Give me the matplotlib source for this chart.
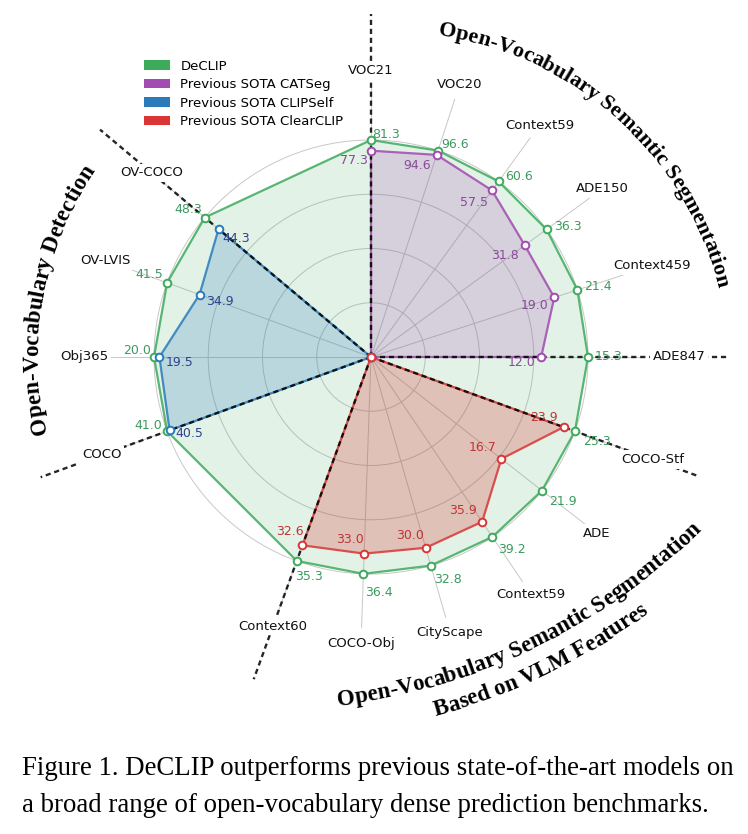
import numpy as np
import matplotlib
matplotlib.use("Agg")
import matplotlib.pyplot as plt
from matplotlib.patches import Patch
from matplotlib.font_manager import FontProperties

# benchmarks, in drawing order (counter-clockwise angle in degrees)
categories = ["VOC21", "VOC20", "Context59", "ADE150", "Context459", "ADE847",
              "COCO-Stf", "ADE", "Context59", "CityScape", "COCO-Obj", "Context60",
              "COCO", "Obj365", "OV-LVIS", "OV-COCO"]
angles_deg = [90, 72, 54, 36, 18, 0,
              -20, -38, -56, -74, -92, -110,
              200, 180, 160, 140]

declip = [81.3, 96.6, 60.6, 36.3, 21.4, 15.3,
          25.3, 21.9, 39.2, 32.8, 36.4, 35.3,
          41.0, 20.0, 41.5, 48.3]
catseg = [77.3, 94.6, 57.5, 31.8, 19.0, 12.0]        # VOC21 .. ADE847
clearclip = [23.9, 16.7, 35.9, 30.0, 33.0, 32.6]     # COCO-Stf .. Context60
clipself = [40.5, 19.5, 34.9, 44.3]                  # COCO .. OV-COCO

catseg_idx = list(range(0, 6))
clearclip_idx = list(range(6, 12))
clipself_idx = list(range(12, 16))

names = ["DeCLIP", "Previous SOTA CATSeg", "Previous SOTA CLIPSelf", "Previous SOTA ClearCLIP"]
colors = ["#3daa5c", "#a24bb0", "#2b7bba", "#d93535"]
text_colors = ["#3c9a5f", "#8a4a9a", "#2d4190", "#c03434"]

W, H = 748, 834
CX, CY, R1 = 371, 357, 217.0   # chart centre and radius of r=1 in pixels
RMAX = 1.25

fig = plt.figure(figsize=(W / 100, H / 100), dpi=100)
fig.patch.set_facecolor("white")
half = RMAX * R1
ax = fig.add_axes([(CX - half) / W, (H - CY - half) / H, 2 * half / W, 2 * half / H],
                  projection="polar")
th = np.deg2rad(angles_deg)
norm = np.array(declip)


def draw_series(idx, vals, col, fill_alpha, closed):
    t = th[idx]
    r = np.array(vals) / norm[idx]
    if closed:
        tt = np.append(t, t[0])
        rr = np.append(r, r[0])
    else:
        tt = np.concatenate([[t[0]], t, [t[-1]]])
        rr = np.concatenate([[0], r, [0]])
    ax.fill(tt, rr, color=col, alpha=fill_alpha, lw=0, zorder=2)
    ax.plot(tt, rr, color=col, lw=1.6, alpha=0.85, zorder=3)
    ax.plot(t, r, "o", ms=5.5, mfc="white", mec=col, mew=1.4, zorder=6)
    if not closed:
        ax.plot([0], [0], "o", ms=5.5, mfc="white", mec=col, mew=1.4, zorder=6)
    return t, r


all_idx = list(range(len(categories)))
series = [
    (all_idx, declip, 0.15, True),
    (catseg_idx, catseg, 0.2, False),
    (clipself_idx, clipself, 0.22, False),
    (clearclip_idx, clearclip, 0.26, False),
]

# label offsets in pixels (dx right, dy down)
offsets = [
    [(15, -6), (17, -6), (20, -5), (21, -3), (21, -3), (21, 0), (22, 10), (21, 11),
     (20, 13), (17, 14), (15, 19), (12, 16), (-19, -6), (-17, -7), (-18, -8), (-17, -8)],
    [(-17, 10), (-20, 11), (-18, 12), (-20, 10), (-20, 8), (-20, 6)],
    [(20, 3), (20, 6), (20, 7), (18, 9)],
    [(-20, -10), (-19, -11), (-19, -11), (-16, -12), (-14, -14), (-13, -14)],
]

for k, (idx, vals, fa, closed) in enumerate(series):
    t, r = draw_series(idx, vals, colors[k], fa, closed)
    for j, v in enumerate(vals):
        dx, dy = offsets[k][j]
        ax.annotate(f"{v:.1f}", xy=(t[j], r[j]), xytext=(dx, -dy), textcoords="offset pixels",
                    ha="center", va="center", fontsize=9, color=text_colors[k], zorder=7,
                    annotation_clip=False)

# group separators
for name_i, r_end in [(0, 1.58), (5, 1.65), (6, 1.61), (11, 1.58), (12, 1.62), (15, 1.63)]:
    ax.plot([th[name_i], th[name_i]], [0, r_end], color="black", lw=1.7,
            ls=(0, (2.2, 1.6)), alpha=0.85, zorder=4, clip_on=False)

# benchmark names
label_r = {4: 1.36, 5: 1.42, 6: 1.38, 14: 1.30}
for i, name in enumerate(categories):
    ax.text(th[i], label_r.get(i, 1.32), name, ha="center", va="center", fontsize=9.5,
            color="#111111", zorder=8, clip_on=False,
            bbox=dict(boxstyle="square,pad=0.2", fc="white", ec="none"))

# fix the polar frame after plotting (negative angles would shrink it to a wedge)
ax.set_thetalim(0, 2 * np.pi)
ax.set_ylim(0, RMAX)
ax.set_xticks(np.deg2rad(np.mod(angles_deg, 360)))
ax.set_xticklabels([])
ax.set_yticks([0.25, 0.5, 0.75, 1.0])
ax.set_yticklabels([])
ax.grid(color="#c8c8c8", lw=0.7)
ax.spines["polar"].set_visible(False)
ax.patch.set_alpha(0)

# legend
handles = [Patch(facecolor=c, edgecolor="none") for c in colors]
fig.legend(handles, names, loc="upper left", bbox_to_anchor=(133 / W, 1 - 49 / H),
           frameon=False, fontsize=9.5, handlelength=2.0, handleheight=0.75,
           labelspacing=0.42, handletextpad=0.8, borderpad=0.3)

# curved group titles
ov = fig.add_axes([0, 0, 1, 1])
ov.set_xlim(0, W)
ov.set_ylim(H, 0)
ov.axis("off")
renderer = fig.canvas.get_renderer()


def char_w(c, fp):
    a = renderer.get_text_width_height_descent("|" + c + "|", fp, ismath=False)[0]
    b = renderer.get_text_width_height_descent("||", fp, ismath=False)[0]
    return a - b


def arc_text(text, cx, cy, r, mid_deg, clockwise, tops_out, size=16.5):
    fp = FontProperties(family="Liberation Serif", weight="bold", size=size)
    ws = [char_w(c, fp) for c in text]
    span = sum(ws) / r
    mid = np.deg2rad(mid_deg)
    pos = 0.0
    for c, w in zip(text, ws):
        s = (pos + w / 2) / r
        t = mid + span / 2 - s if clockwise else mid - span / 2 + s
        pos += w
        rot = np.rad2deg(t) - 90 if tops_out else np.rad2deg(t) + 90
        ov.text(cx + r * np.cos(t), cy - r * np.sin(t), c, fontproperties=fp,
                rotation=rot, rotation_mode="anchor", ha="center", va="baseline")


arc_text("Open-Vocabulary Semantic Segmentation", 390, 370, 338, 48.0, True, True, size=16)
arc_text("Open-Vocabulary Detection", 371, 357, 333, 169.6, True, True)
arc_text("Open-Vocabulary Semantic Segmentation", 263, 87, 623, -64.2, False, False)
arc_text("Based on VLM Features", 263, 87, 652, -64.2, False, False)

# caption
cap = ["Figure 1. DeCLIP outperforms previous state-of-the-art models on",
       "a broad range of open-vocabulary dense prediction benchmarks."]
cfp = FontProperties(family="Liberation Serif", size=10)
w10 = renderer.get_text_width_height_descent(cap[0], cfp, ismath=False)[0]
cap_size = 10 * 708 / w10
fig.text(22 / W, 1 - 775 / H, cap[0], family="Liberation Serif", fontsize=cap_size,
         ha="left", va="baseline")
fig.text(22 / W, 1 - 812 / H, cap[1], family="Liberation Serif", fontsize=cap_size,
         ha="left", va="baseline")

fig.savefig("out.png", dpi=100, facecolor="white")
